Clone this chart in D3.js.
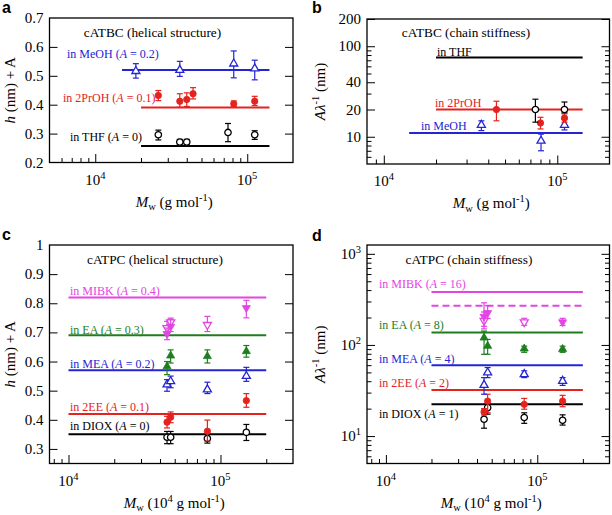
<!DOCTYPE html>
<html><head><meta charset="utf-8">
<script src="https://cdn.jsdelivr.net/npm/d3@7"></script>
<style>body{margin:0;background:#fff}svg{display:block}</style>
</head><body>
<svg id="chart" width="612" height="515"></svg>
<script>
// ---------- DATA ----------
// Each point: [Mw, value, errLow, errHigh]
const a_MeOH  = [[18500,0.516,0.492,0.542],[36000,0.52,0.498,0.55],[81500,0.542,0.493,0.586],[112000,0.525,0.486,0.554]];
const a_2PrOH = [[26000,0.432,0.414,0.449],[36000,0.412,0.391,0.438],[40000,0.418,0.394,0.441],[44000,0.438,0.42,0.459],[81500,0.403,0.393,0.413],[112000,0.412,0.397,0.429]];
const a_THF   = [[26000,0.296,0.278,0.312],[36000,0.271,0.262,0.28],[40000,0.271,0.262,0.28],[74700,0.304,0.272,0.335],[112000,0.296,0.28,0.31]];
const a_fits  = [[15000,140000,0.52],[20000,140000,0.39],[20000,140000,0.257]]; // MeOH, 2PrOH, THF

const b_MeOH  = [[36500,13.5,11.7,15],[80600,9.0,7.0,10.7],[110000,13.5,11.9,15.7]];
const b_2PrOH = [[44600,20,15,24.7],[80000,14.2,12.2,16.4],[110000,16.1,14.5,17.9]];
const b_THF   = [[74800,20,14.5,26],[110000,20,18.4,24.2]];
const b_fits  = [[20000,140000,75],[20000,140000,20],[14000,140000,11]]; // THF, 2PrOH, MeOH

const c_DIOX  = [[44500,0.34,0.318,0.36],[47000,0.34,0.318,0.36],[82000,0.336,0.32,0.352],[148000,0.357,0.329,0.384]];
const c_2EE   = [[44500,0.392,0.372,0.412],[47000,0.409,0.39,0.427],[82000,0.361,0.327,0.399],[148000,0.466,0.443,0.49]];
const c_MEA   = [[44500,0.521,0.498,0.538],[47000,0.532,0.51,0.55],[82000,0.504,0.49,0.529],[148000,0.55,0.532,0.58]];
const c_EA    = [[44500,0.583,0.555,0.6],[47000,0.62,0.595,0.64],[82000,0.618,0.595,0.64],[148000,0.635,0.615,0.655]];
const c_MIBKf = [[44500,0.695,0.675,0.715],[47000,0.72,0.703,0.745],[148000,0.784,0.75,0.81]];
const c_MIBKo = [[44500,0.715,0.698,0.738],[47000,0.735,0.72,0.749],[82000,0.726,0.703,0.755]];
const c_fits  = [[10000,200000,0.82],[10000,200000,0.69],[10000,200000,0.57],[10000,200000,0.42],[10000,200000,0.35]];

const d_DIOX  = [[44500,15.3,12.2,18],[47000,20.5,17.4,23],[82000,16,13.8,18],[147000,14.9,13.2,17.1]];
const d_2EE   = [[44500,18.4,17,20],[47000,24.2,18,28.8],[82000,22.3,19.7,25.9],[147000,24.2,21,28]];
const d_MEA   = [[44500,36.3,28.8,43.8],[47000,49.7,43.8,56.5],[82000,47.7,43.8,52],[147000,40.2,36,43.8]];
const d_EA    = [[44500,120,79,142],[47000,97.5,79,115],[82000,91,83,97],[147000,90,83,97]];
const d_MIBKf = [[44500,205,160,290],[47000,225,195,270],[147000,178,164,196]];
const d_MIBKo = [[44500,185,150,230],[82000,178,164,196]];
const d_fits  = [[20000,200000,380],[20000,200000,137],[20000,200000,60],[20000,200000,32],[20000,200000,22.3]];
const d_dashed = [[20000,200000,270]];

const linTicksA = [0.2,0.3,0.4,0.5,0.6,0.7];
const linTicksC = [0.3,0.4,0.5,0.6,0.7,0.8,0.9,1.0];
const logLabelsB = [10,20,40,100,200];
const logLabelsD = [10,100,1000];

// ---------- STYLE ----------
const SERIF = "'Liberation Serif','Times New Roman',serif";
const SANS = "'Liberation Sans',Arial,sans-serif";
const BLUE="#2424d4", RED="#e4221e", BLACK="#000", MAG="#e245e2", GREEN="#1e7e1e";

const svg = d3.select("#chart");
svg.append("rect").attr("width",612).attr("height",515).attr("fill","#fff");

function rich(textSel, parts, fs){
  let shift = 0;
  parts.forEach(p=>{
    const ts = textSel.append("tspan").text(p.t);
    const target = p.sup ? -fs*0.4 : (p.sub ? fs*0.25 : 0);
    if (target - shift !== 0) ts.attr("dy", target - shift);
    shift = target;
    if (p.sup || p.sub) ts.attr("font-size", fs*0.7);
    if (p.i) ts.attr("font-style","italic");
  });
}
function label(g, x, y, parts, fs, color, anchor){
  const t = g.append("text").attr("x",x).attr("y",y).attr("font-family",SERIF)
    .attr("font-size",fs).attr("fill",color||"#000").attr("text-anchor",anchor||"start");
  rich(t, parts, fs);
  return t;
}

function minorLog(lo, hi){
  const out=[];
  for(let e=Math.floor(Math.log10(lo)); e<=Math.ceil(Math.log10(hi)); e++){
    for(let m=1;m<=9;m++){ const v=m*Math.pow(10,e); if(v>lo*1.001 && v<hi*0.999) out.push(v); }
  }
  return out;
}

function panel(cfg){
  const g = svg.append("g");
  const x = d3.scaleLog().domain(cfg.xDomain).range([cfg.left, cfg.right]);
  const y = (cfg.yLog ? d3.scaleLog() : d3.scaleLinear()).domain(cfg.yDomain).range([cfg.bottom, cfg.top]);

  const xt = minorLog(cfg.xDomain[0], cfg.xDomain[1]);
  const isMajor = v => Math.abs(Math.log10(v) - Math.round(Math.log10(v))) < 1e-6;
  const xa = g.append("g").attr("transform",`translate(0,${cfg.bottom})`)
    .call(d3.axisBottom(x).tickValues(xt).tickSize(-4.5).tickFormat(()=>""));
  xa.select(".domain").remove();
  xa.selectAll(".tick line").attr("stroke","#000").attr("stroke-width",1)
    .filter(d=>isMajor(d)).attr("y2",-8.5);
  xt.filter(isMajor).forEach(v=>{
    label(g, x(v), cfg.bottom+22, [{t:"10"},{t:String(Math.round(Math.log10(v))),sup:true}], 15, "#000", "middle");
  });

  let yt, yMajor;
  if (cfg.yLog){
    yt = minorLog(cfg.yDomain[0], cfg.yDomain[1]);
    cfg.yLabels.forEach(v=>{ if(yt.indexOf(v)<0) yt.push(v); });
    yMajor = v => cfg.yMajor.indexOf(v)>=0;
  } else {
    yt = cfg.yLabels.filter(v=>v>cfg.yDomain[0]+1e-9 && v<cfg.yDomain[1]-1e-9);
    yMajor = v => true;
  }
  const yl = g.append("g").attr("transform",`translate(${cfg.left},0)`)
    .call(d3.axisLeft(y).tickValues(yt).tickSize(-4.5).tickFormat(()=>""));
  yl.select(".domain").remove();
  yl.selectAll(".tick line").attr("stroke","#000").filter(d=>yMajor(d)).attr("x2", 8);
  const yr = g.append("g").attr("transform",`translate(${cfg.right},0)`)
    .call(d3.axisRight(y).tickValues(yt).tickSize(-4.5).tickFormat(()=>""));
  yr.select(".domain").remove();
  yr.selectAll(".tick line").attr("stroke","#000").filter(d=>yMajor(d)).attr("x2", -8);

  cfg.yLabels.forEach(v=>{
    let parts;
    if (cfg.yLabelFmt === "pow") parts=[{t:"10"},{t:String(Math.round(Math.log10(v))),sup:true}];
    else if (cfg.yLog) parts=[{t:String(v)}];
    else parts=[{t: v===1 ? "1" : v.toFixed(1)}];
    label(g, cfg.left-6, y(v)+5, parts, 15, "#000", "end");
  });

  g.append("rect").attr("x",cfg.left).attr("y",cfg.top)
    .attr("width",cfg.right-cfg.left).attr("height",cfg.bottom-cfg.top)
    .attr("fill","none").attr("stroke","#000").attr("stroke-width",1.3);

  cfg.lines.forEach(L=>{
    L.data.forEach(r=>{
      g.append("line").attr("x1",x(r[0])).attr("x2",x(r[1])).attr("y1",y(r[2])).attr("y2",y(r[2]))
        .attr("stroke",L.color).attr("stroke-width",2).attr("stroke-dasharray",L.dash||null);
    });
  });

  cfg.series.forEach(S=>{
    const sg = g.append("g");
    S.data.forEach(p=>{
      const px = x(p[0]);
      sg.append("line").attr("x1",px).attr("x2",px).attr("y1",y(p[2])).attr("y2",y(p[3]))
        .attr("stroke",S.color).attr("stroke-width",1.2);
      [p[2],p[3]].forEach(v=>{
        sg.append("line").attr("x1",px-3).attr("x2",px+3).attr("y1",y(v)).attr("y2",y(v))
          .attr("stroke",S.color).attr("stroke-width",1.2);
      });
    });
    const sym = S.shape.indexOf("Tri")>=0 ? d3.symbolTriangle : d3.symbolCircle;
    const size = S.shape.indexOf("Tri")>=0 ? 28 : 32;
    const open = S.shape.startsWith("open");
    const down = S.shape.endsWith("Down");
    sg.selectAll("path.m").data(S.data).join("path").attr("class","m")
      .attr("d", d3.symbol().type(sym).size(size))
      .attr("transform", p=>`translate(${x(p[0])},${y(p[1])})${down?" rotate(180)":""}`)
      .attr("fill", open ? "#fff" : S.color)
      .attr("stroke", S.color).attr("stroke-width", open?1.3:0.8);
  });

  cfg.texts.forEach(T=> label(g, T.x, T.y, T.parts, T.fs, T.color, T.anchor));

  label(g, (cfg.left+cfg.right)/2+3, cfg.bottom+44, cfg.xTitle, 15, "#000", "middle");
  const yt2 = g.append("text").attr("font-family",SERIF).attr("font-size",15).attr("text-anchor","middle")
    .attr("transform",`translate(${cfg.yTitleX},${(cfg.top+cfg.bottom)/2}) rotate(-90)`);
  rich(yt2, cfg.yTitle, 15);

  g.append("text").attr("x",cfg.letterX).attr("y",cfg.letterY).attr("font-family",SANS)
    .attr("font-weight","bold").attr("font-size",16).text(cfg.letter);
}

const mwTitle = [{t:"M",i:true},{t:"w",sub:true},{t:" (g mol"},{t:"-1",sup:true},{t:")"}];
const mwTitle4 = [{t:"M",i:true},{t:"w",sub:true},{t:" (10"},{t:"4",sup:true},{t:" g mol"},{t:"-1",sup:true},{t:")"}];
const hTitle = [{t:"h",i:true},{t:" (nm) + A"}];
const lamTitle = [{t:"A",i:true},{t:"λ",i:true},{t:"-1",sup:true},{t:" (nm)"}];
const inA = (name, val) => [{t:"in "+name+" ("},{t:"A",i:true},{t:" = "+val+")"}];

panel({
  letter:"a", letterX:2, letterY:13,
  left:49.5, right:293, top:18, bottom:162.5,
  xDomain:[5000,200000], yDomain:[0.2,0.7], yLog:false, yLabels:linTicksA,
  xTitle:mwTitle, yTitle:hTitle, yTitleX:15,
  lines:[{color:BLUE,data:[a_fits[0]]},{color:RED,data:[a_fits[1]]},{color:BLACK,data:[a_fits[2]]}],
  series:[
    {color:BLACK,shape:"openCircle",data:a_THF},
    {color:RED,shape:"filledCircle",data:a_2PrOH},
    {color:BLUE,shape:"openTriUp",data:a_MeOH}],
  texts:[
    {x:152.5,y:37,parts:[{t:"cATBC (helical structure)"}],fs:13.3,color:"#000",anchor:"middle"},
    {x:67,y:58,parts:inA("MeOH","0.2"),fs:12,color:BLUE},
    {x:63,y:102,parts:inA("2PrOH","0.1"),fs:12,color:RED},
    {x:70,y:141,parts:inA("THF","0"),fs:12,color:BLACK}]
});

panel({
  letter:"b", letterX:312, letterY:13,
  left:367, right:609.5, top:19, bottom:164,
  xDomain:[8000,200000], yDomain:[5,200], yLog:true, yLabels:logLabelsB, yMajor:logLabelsB,
  xTitle:mwTitle, yTitle:lamTitle, yTitleX:325,
  lines:[{color:BLACK,data:[b_fits[0]]},{color:RED,data:[b_fits[1]]},{color:BLUE,data:[b_fits[2]]}],
  series:[
    {color:BLUE,shape:"openTriUp",data:b_MeOH},
    {color:RED,shape:"filledCircle",data:b_2PrOH},
    {color:BLACK,shape:"openCircle",data:b_THF}],
  texts:[
    {x:466,y:37,parts:[{t:"cATBC (chain stiffness)"}],fs:13.3,color:"#000",anchor:"middle"},
    {x:437,y:56,parts:[{t:"in THF"}],fs:12,color:BLACK},
    {x:435,y:107,parts:[{t:"in 2PrOH"}],fs:12,color:RED},
    {x:421,y:130,parts:[{t:"in MeOH"}],fs:12,color:BLUE}]
});

panel({
  letter:"c", letterX:2, letterY:240,
  left:49.5, right:293, top:245, bottom:463.5,
  xDomain:[7500,300000], yDomain:[0.25,1.0], yLog:false, yLabels:linTicksC,
  xTitle:mwTitle4, yTitle:hTitle, yTitleX:15,
  lines:[{color:MAG,data:[c_fits[0]]},{color:GREEN,data:[c_fits[1]]},{color:BLUE,data:[c_fits[2]]},{color:RED,data:[c_fits[3]]},{color:BLACK,data:[c_fits[4]]}],
  series:[
    {color:BLACK,shape:"openCircle",data:c_DIOX},
    {color:RED,shape:"filledCircle",data:c_2EE},
    {color:BLUE,shape:"openTriUp",data:c_MEA},
    {color:GREEN,shape:"filledTriUp",data:c_EA},
    {color:MAG,shape:"openTriDown",data:c_MIBKo},
    {color:MAG,shape:"filledTriDown",data:c_MIBKf}],
  texts:[
    {x:155,y:263.5,parts:[{t:"cATPC (helical structure)"}],fs:13.3,color:"#000",anchor:"middle"},
    {x:70,y:295,parts:inA("MIBK","0.4"),fs:12,color:MAG},
    {x:70,y:334,parts:inA("EA","0.3"),fs:12,color:GREEN},
    {x:70,y:367.5,parts:inA("MEA","0.2"),fs:12,color:BLUE},
    {x:70,y:411,parts:inA("2EE","0.1"),fs:12,color:RED},
    {x:70,y:430,parts:inA("DIOX","0"),fs:12,color:BLACK}]
});

panel({
  letter:"d", letterX:312, letterY:241,
  left:367, right:609.5, top:245, bottom:463.5,
  xDomain:[7500,300000], yDomain:[5,1250], yLog:true, yLabels:logLabelsD, yMajor:logLabelsD, yLabelFmt:"pow",
  xTitle:mwTitle4, yTitle:lamTitle, yTitleX:325,
  lines:[{color:MAG,data:[d_fits[0]]},{color:MAG,data:d_dashed,dash:"7,4"},{color:GREEN,data:[d_fits[1]]},{color:BLUE,data:[d_fits[2]]},{color:RED,data:[d_fits[3]]},{color:BLACK,data:[d_fits[4]]}],
  series:[
    {color:BLACK,shape:"openCircle",data:d_DIOX},
    {color:RED,shape:"filledCircle",data:d_2EE},
    {color:BLUE,shape:"openTriUp",data:d_MEA},
    {color:GREEN,shape:"filledTriUp",data:d_EA},
    {color:MAG,shape:"openTriDown",data:d_MIBKo},
    {color:MAG,shape:"filledTriDown",data:d_MIBKf}],
  texts:[
    {x:469,y:263.5,parts:[{t:"cATPC (chain stiffness)"}],fs:13.3,color:"#000",anchor:"middle"},
    {x:379,y:287.5,parts:inA("MIBK","16"),fs:12,color:MAG},
    {x:379,y:329,parts:inA("EA","8"),fs:12,color:GREEN},
    {x:379,y:362.5,parts:inA("MEA","4"),fs:12,color:BLUE},
    {x:379,y:387,parts:inA("2EE","2"),fs:12,color:RED},
    {x:379,y:418,parts:inA("DIOX","1"),fs:12,color:BLACK}]
});
</script>
</body></html>
